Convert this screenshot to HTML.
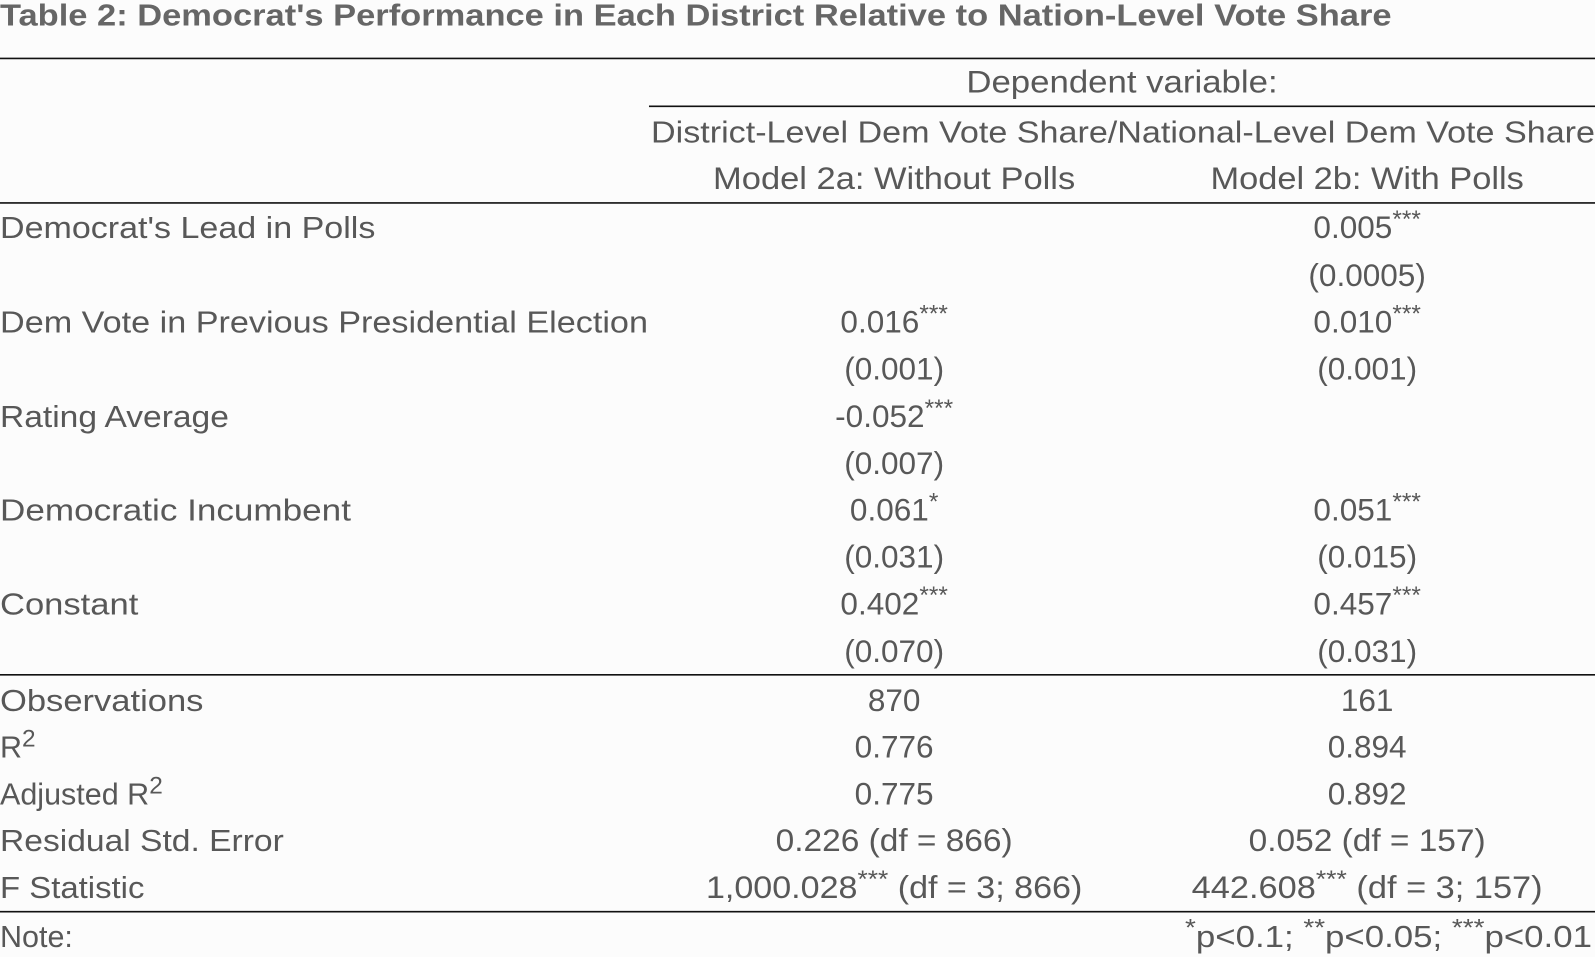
<!DOCTYPE html>
<html><head><meta charset="utf-8"><style>
html,body{margin:0;padding:0;background:#fcfcfc;overflow:hidden;}
svg{display:block;}
text{font-family:"Liberation Sans",sans-serif;fill:#585858;font-size:30px;}
.t{font-weight:bold;fill:#666;font-size:30px;}
.c{text-anchor:middle;font-size:31px;}
.s{font-size:24px;}
</style></head><body>
<svg width="1595" height="957" viewBox="0 0 1568 941" preserveAspectRatio="none">
<rect width="1568" height="941" fill="#fcfcfc"/>
<text class="t" x="0" y="25" textLength="1368" lengthAdjust="spacingAndGlyphs">Table 2: Democrat's Performance in Each District Relative to Nation-Level Vote Share</text>
<line x1="0" y1="57.5" x2="1568" y2="57.5" stroke="#111" stroke-width="1.6"/>
<text class="c" x="1103" y="91" textLength="306" lengthAdjust="spacingAndGlyphs">Dependent variable:</text>
<line x1="638" y1="104.5" x2="1568" y2="104.5" stroke="#111" stroke-width="1.6"/>
<text x="640" y="140" textLength="928" lengthAdjust="spacingAndGlyphs">District-Level Dem Vote Share/National-Level Dem Vote Share</text>
<text class="c" x="879" y="186" textLength="356" lengthAdjust="spacingAndGlyphs">Model 2a: Without Polls</text>
<text class="c" x="1344" y="186" textLength="308" lengthAdjust="spacingAndGlyphs">Model 2b: With Polls</text>
<line x1="0" y1="199.5" x2="1568" y2="199.5" stroke="#111" stroke-width="1.6"/>

<text x="0" y="234" textLength="369" lengthAdjust="spacingAndGlyphs">Democrat's Lead in Polls</text>
<text class="c" x="1344" y="234">0.005<tspan class="s" dy="-11">***</tspan></text>
<text class="c" x="1344" y="281">(0.0005)</text>

<text x="0" y="327" textLength="637" lengthAdjust="spacingAndGlyphs">Dem Vote in Previous Presidential Election</text>
<text class="c" x="879" y="327">0.016<tspan class="s" dy="-11">***</tspan></text>
<text class="c" x="1344" y="327">0.010<tspan class="s" dy="-11">***</tspan></text>
<text class="c" x="879" y="373">(0.001)</text>
<text class="c" x="1344" y="373">(0.001)</text>

<text x="0" y="420" textLength="225" lengthAdjust="spacingAndGlyphs">Rating Average</text>
<text class="c" x="879" y="420">-0.052<tspan class="s" dy="-11">***</tspan></text>
<text class="c" x="879" y="466">(0.007)</text>

<text x="0" y="512" textLength="345" lengthAdjust="spacingAndGlyphs">Democratic Incumbent</text>
<text class="c" x="879" y="512">0.061<tspan class="s" dy="-11">*</tspan></text>
<text class="c" x="1344" y="512">0.051<tspan class="s" dy="-11">***</tspan></text>
<text class="c" x="879" y="558">(0.031)</text>
<text class="c" x="1344" y="558">(0.015)</text>

<text x="0" y="604" textLength="136" lengthAdjust="spacingAndGlyphs">Constant</text>
<text class="c" x="879" y="604">0.402<tspan class="s" dy="-11">***</tspan></text>
<text class="c" x="1344" y="604">0.457<tspan class="s" dy="-11">***</tspan></text>
<text class="c" x="879" y="651">(0.070)</text>
<text class="c" x="1344" y="651">(0.031)</text>
<line x1="0" y1="663.5" x2="1568" y2="663.5" stroke="#111" stroke-width="1.6"/>

<text x="0" y="699" textLength="200" lengthAdjust="spacingAndGlyphs">Observations</text>
<text class="c" x="879" y="699">870</text>
<text class="c" x="1344" y="699">161</text>

<text x="0" y="745">R<tspan class="s" dy="-11">2</tspan></text>
<text class="c" x="879" y="745">0.776</text>
<text class="c" x="1344" y="745">0.894</text>

<text x="0" y="791">Adjusted R<tspan class="s" dy="-11">2</tspan></text>
<text class="c" x="879" y="791">0.775</text>
<text class="c" x="1344" y="791">0.892</text>

<text x="0" y="837" textLength="279" lengthAdjust="spacingAndGlyphs">Residual Std. Error</text>
<text class="c" x="879" y="837" textLength="233" lengthAdjust="spacingAndGlyphs">0.226 (df = 866)</text>
<text class="c" x="1344" y="837" textLength="233" lengthAdjust="spacingAndGlyphs">0.052 (df = 157)</text>

<text x="0" y="883" textLength="142" lengthAdjust="spacingAndGlyphs">F Statistic</text>
<text class="c" x="879" y="883" textLength="370" lengthAdjust="spacingAndGlyphs">1,000.028<tspan class="s" dy="-11">***</tspan><tspan dy="11"> (df = 3; 866)</tspan></text>
<text class="c" x="1344" y="883" textLength="345" lengthAdjust="spacingAndGlyphs">442.608<tspan class="s" dy="-11">***</tspan><tspan dy="11"> (df = 3; 157)</tspan></text>
<line x1="0" y1="896.5" x2="1568" y2="896.5" stroke="#111" stroke-width="1.6"/>

<text x="0" y="931">Note:</text>
<text x="1565" y="931" style="text-anchor:end" textLength="400" lengthAdjust="spacingAndGlyphs"><tspan class="s" dy="-11">*</tspan><tspan dy="11">p&lt;0.1; </tspan><tspan class="s" dy="-11">**</tspan><tspan dy="11">p&lt;0.05; </tspan><tspan class="s" dy="-11">***</tspan><tspan dy="11">p&lt;0.01</tspan></text>
</svg>
</body></html>
